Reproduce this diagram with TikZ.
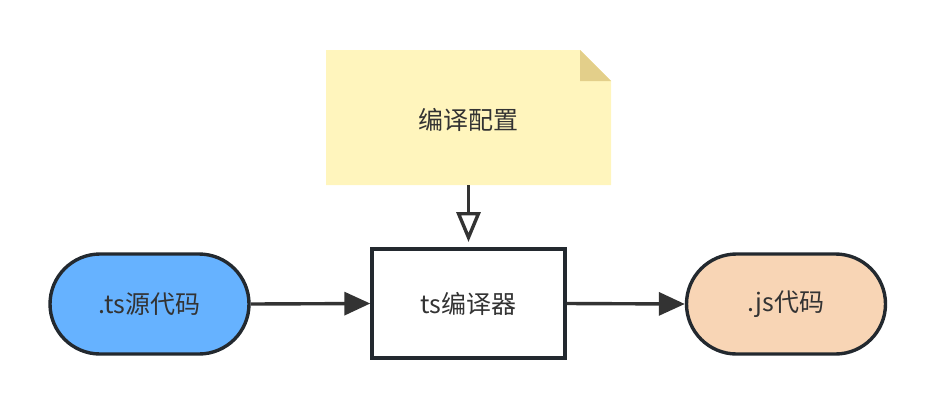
\documentclass[tikz,border=0pt]{standalone}
\usepackage{fontspec}
\setmainfont{Noto Sans CJK SC}
\usetikzlibrary{arrows.meta}
\definecolor{notefill}{HTML}{FFF5BD}
\definecolor{notefold}{HTML}{E3CF8A}
\definecolor{bluefill}{HTML}{66B2FF}
\definecolor{orangefill}{HTML}{F8D5B5}
\definecolor{edge}{HTML}{23292F}
\definecolor{arrowc}{HTML}{333333}
\definecolor{txt}{HTML}{333333}
\tikzset{
  lbl/.style={text=txt, font=\fontsize{25}{29}\selectfont},
  term/.style={lbl, draw=edge, line width=3.4pt, rounded corners=50pt, minimum width=199pt, minimum height=100pt, inner sep=0pt},
  procbox/.style={lbl, draw=edge, line width=3.4pt, fill=white, minimum width=193pt, minimum height=109pt, inner sep=0pt},
  flow/.style={draw=arrowc, line width=3.4pt, -{Triangle[length=26pt,width=23pt]}},
  cfg/.style={draw=arrowc, line width=3.4pt, -{Triangle[open,fill=white,length=30pt,width=24pt,line width=3.4pt]}},
}
\begin{document}
\begin{tikzpicture}[x=1pt,y=-1pt]
\path[use as bounding box] (0,0) rectangle (936,408);
% note
\fill[notefill] (326,50) -- (580,50) -- (611,81) -- (611,185) -- (326,185) -- cycle;
\fill[notefold] (580,50) -- (611,81) -- (580,81) -- cycle;
\node[lbl] (note) at (468.5,120) {编译配置};
\coordinate (noteb) at (468.5,185);
\coordinate (cfgtip) at (468.5,242);
\node[term, fill=bluefill] (src) at (149.5,304) {.ts源代码};
\node[procbox] (comp) at (468.5,303.5) {ts编译器};
\node[term, fill=orangefill] (dst) at (786,304) {.js代码};
\draw[flow] (src.east) -- (comp.west);
\draw[flow] (comp.east) -- (dst.west);
\draw[cfg] (noteb) -- (cfgtip);
\end{tikzpicture}
\end{document}
